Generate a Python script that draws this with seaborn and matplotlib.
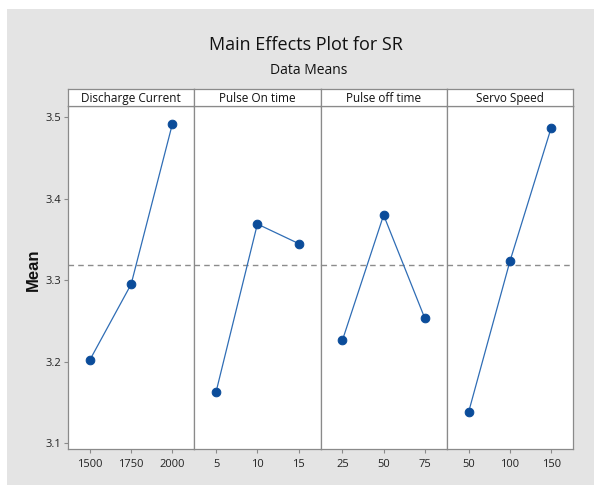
import matplotlib
matplotlib.use("Agg")
import matplotlib.pyplot as plt
import seaborn as sns
import pandas as pd
from matplotlib.patches import Rectangle

factors = ["Discharge Current", "Pulse On time", "Pulse off time", "Servo Speed"]
levels_dc = ["1500", "1750", "2000"]
means_dc = [3.202, 3.295, 3.492]
levels_pon = ["5", "10", "15"]
means_pon = [3.163, 3.369, 3.345]
levels_poff = ["25", "50", "75"]
means_poff = [3.226, 3.380, 3.253]
levels_ss = ["50", "100", "150"]
means_ss = [3.138, 3.323, 3.487]
grand_mean = 3.319
yticks = [3.1, 3.2, 3.3, 3.4, 3.5]

all_levels = [levels_dc, levels_pon, levels_poff, levels_ss]
all_means = [means_dc, means_pon, means_poff, means_ss]

sns.set_style("white")
plt.rcParams['font.family'] = ['Open Sans', 'DejaVu Sans']

W, H = 594, 488
fig = plt.figure(figsize=(W / 100, H / 100), dpi=100)
fig.patch.set_facecolor("white")
fig.patches.append(Rectangle((7 / W, 1 - 485 / H), 1 - 7 / W, (485 - 9) / H,
                             transform=fig.transFigure, facecolor="#e4e4e4",
                             edgecolor="none", zorder=-10))

left, right = 68, 573
ax_top, ax_bot = 106, 449
strip_top = 89
pw = (right - left) / 4
spine_col = "#8a8a8a"
line_col = "#2f6db5"
mark_col = "#0b4c9a"

for i, (fac, lv, mv) in enumerate(zip(factors, all_levels, all_means)):
    x0 = left + i * pw
    ax = fig.add_axes([x0 / W, 1 - ax_bot / H, pw / W, (ax_bot - ax_top) / H])
    ax.set_facecolor("white")
    df = pd.DataFrame({"level": lv, "mean": mv})
    sns.lineplot(data=df, x=list(range(len(lv))), y="mean", ax=ax, color=line_col,
                 linewidth=0.9, marker="o", markersize=6.2, markerfacecolor=mark_col,
                 markeredgecolor=mark_col, sort=False)
    ax.axhline(grand_mean, color="#8c8c8c", linestyle=(0, (4, 3)), linewidth=1.0, zorder=0)
    ax.set_xlim(-0.53, 2.53)
    ax.set_ylim(3.0926, 3.514)
    ax.set_xticks(range(len(lv)))
    ax.set_xticklabels(lv)
    ax.set_xlabel("")
    ax.set_ylabel("")
    ax.set_yticks(yticks)
    if i == 0:
        ax.set_yticklabels([f"{v:.1f}" for v in yticks])
        ax.tick_params(axis="y", left=True, length=3, width=0.8, color=spine_col,
                       labelsize=8, labelcolor="#222222", pad=2)
    else:
        ax.tick_params(axis="y", left=False, labelleft=False)
    ax.tick_params(axis="x", bottom=True, length=3, width=0.8, color=spine_col,
                   labelsize=8, labelcolor="#222222", pad=4)
    for s in ax.spines.values():
        s.set_color(spine_col)
        s.set_linewidth(0.9)
        s.set_visible(True)
    # strip
    sax = fig.add_axes([x0 / W, 1 - ax_top / H, pw / W, (ax_top - strip_top) / H])
    sax.set_facecolor("white")
    sax.set_xticks([])
    sax.set_yticks([])
    for s in sax.spines.values():
        s.set_color(spine_col)
        s.set_linewidth(0.9)
    sax.text(0.5, 0.45, fac, ha="center", va="center", fontsize=8.5,
             color="#111111", transform=sax.transAxes)

fig.text(33 / W, 1 - 270 / H, "Mean", rotation=90, ha="center", va="center",
         fontsize=12, fontweight="bold", family=["Liberation Sans", "DejaVu Sans"],
         color="#111111")
fig.text(306 / W, 1 - 45 / H, "Main Effects Plot for SR", ha="center", va="center",
         fontsize=13, color="#111111")
fig.text(309 / W, 1 - 71 / H, "Data Means", ha="center", va="center",
         fontsize=10, color="#111111")

fig.savefig("out.png", dpi=100)
